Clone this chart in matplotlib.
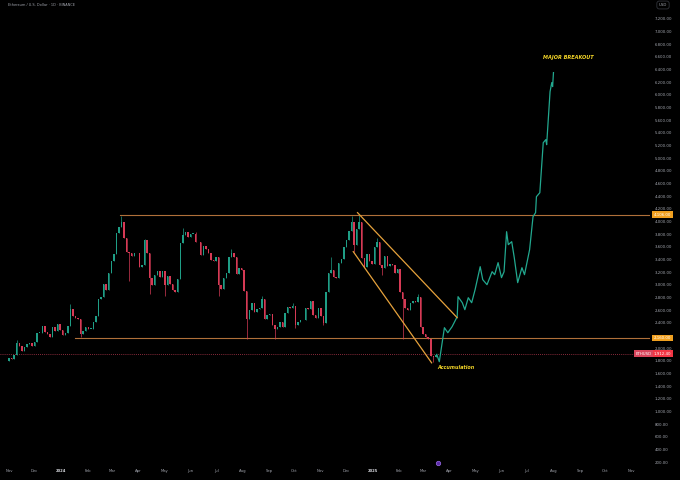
import numpy as np
import pandas as pd
import matplotlib
matplotlib.use("Agg")
import matplotlib.pyplot as plt
import matplotlib.dates as mdates
import matplotlib.transforms as mtransforms

# ----------------------------------------
# Data (3-day candles, ETH/USD)
# ----------------------------------------
first_date = "2023-11-01"
first_open = 1800

closes = [
    # Nov 2023
    1850, 1830, 1890, 2080, 2040, 1960, 2010, 2060, 2080, 2030,
    # Dec 2023
    2090, 2240, 2240, 2350, 2260, 2220, 2180, 2330, 2270, 2380, 2280,
    # Jan 2024
    2210, 2240, 2350, 2620, 2510, 2470, 2460, 2230, 2270, 2340,
    # Feb 2024
    2300, 2300, 2420, 2500, 2780, 2810, 3010, 2920, 3180, 3380,
    # Mar 2024
    3480, 3820, 3920, 3990, 3740, 3520, 3510, 3450, 3500, 3510,
    # Apr 2024
    3280, 3320, 3700, 3500, 3100, 2990, 3150, 3220, 3130, 3210,
    # May 2024
    2990, 3140, 3010, 2910, 2880, 3090, 3660, 3780, 3830, 3760,
    # Jun 2024
    3810, 3810, 3680, 3670, 3470, 3620, 3560, 3500, 3390, 3380,
    # Jul 2024
    3440, 3000, 2930, 3100, 3180, 3440, 3500, 3440, 3170, 3270, 3230,
    # Aug 2024
    2900, 2460, 2600, 2720, 2570, 2610, 2630, 2770, 2460, 2520,
    # Sep 2024
    2540, 2370, 2300, 2340, 2420, 2340, 2560, 2650, 2630, 2660,
    # Oct 2024
    2360, 2410, 2440, 2440, 2630, 2610, 2740, 2530, 2480, 2640,
    # Nov 2024
    2510, 2400, 2890, 3180, 3240, 3130, 3100, 3350, 3410, 3590,
    # Dec 2024
    3700, 3850, 3990, 3630, 3880, 3990, 3420, 3280, 3490, 3380, 3330,
    # Jan 2025
    3600, 3680, 3320, 3260, 3450, 3300, 3330, 3310, 3180, 3250,
    # Feb 2025
    2880, 2780, 2630, 2600, 2720, 2740, 2730, 2810, 2340,
    # Mar 2025
    2220, 2170, 2140, 1870, 1860, 1890,
]

# notable wicks: candle date -> extreme price
wick_highs = {"2023-11-10": 2130, "2024-01-12": 2700, "2024-03-12": 4090,
              "2024-04-08": 3730, "2024-05-23": 3900, "2024-06-07": 3840,
              "2024-07-19": 3560, "2024-08-24": 2820, "2024-09-29": 2720,
              "2024-11-13": 3440, "2024-12-07": 4080, "2024-12-16": 4110,
              "2025-01-06": 3740, "2025-02-23": 2850}
wick_lows = {"2024-01-24": 2170, "2024-03-21": 3060, "2024-04-14": 2850,
             "2024-05-02": 2820, "2024-07-04": 2830, "2024-08-06": 2150,
             "2024-09-08": 2150, "2024-10-02": 2320, "2024-11-04": 2360,
             "2024-12-10": 3520, "2025-01-12": 3160, "2025-02-05": 2150,
             "2025-03-13": 1780}

# projected path after the accumulation
proj_dates = ["2025-03-17", "2025-03-20", "2025-03-26", "2025-03-30", "2025-04-04",
              "2025-04-07", "2025-04-10", "2025-04-11", "2025-04-16", "2025-04-19",
              "2025-04-23", "2025-04-27", "2025-05-01", "2025-05-07", "2025-05-10",
              "2025-05-15", "2025-05-21", "2025-05-24", "2025-05-28", "2025-06-01",
              "2025-06-04", "2025-06-07", "2025-06-09", "2025-06-13", "2025-06-16",
              "2025-06-20", "2025-06-25", "2025-06-28", "2025-07-04", "2025-07-08",
              "2025-07-11", "2025-07-12", "2025-07-16", "2025-07-20", "2025-07-23",
              "2025-07-24", "2025-07-28", "2025-07-30", "2025-07-31", "2025-08-01"]
proj_prices = [1900, 1785, 2322, 2243, 2338,
               2417, 2496, 2812, 2717, 2607,
               2796, 2717, 2923, 3286, 3081,
               3002, 3207, 3160, 3350, 3113,
               3207, 3839, 3634, 3681, 3428,
               3034, 3270, 3160, 3555, 4076,
               4140, 4392, 4455, 5245, 5293,
               5214, 6051, 6194, 6131, 6352]

resistance = 4106.00
support = 2160.00
last_price = 1912.40

# ----------------------------------------
# Figure
# ----------------------------------------
BG = "#000000"
UP = "#1f9e86"
DOWN = "#d63a55"
TXT = "#a3a6af"

fig = plt.figure(figsize=(6.8, 4.8), dpi=100, facecolor=BG)
ax = fig.add_axes([0, 14 / 480, 650 / 680, 466 / 480], facecolor=BG)

ref = mdates.date2num(pd.Timestamp("2024-01-01"))
ax.set_xlim(ref - 71.6, ref + 691.3)
ax.set_ylim(137.4, 7499)

# candles
dates = pd.date_range(first_date, periods=len(closes), freq="3D")
x = mdates.date2num(dates)
c = np.array(closes, dtype=float)
o = np.concatenate([[first_open], c[:-1]])
hi = np.maximum(o, c)
lo = np.minimum(o, c)
for k, v in wick_highs.items():
    i = list(dates).index(pd.Timestamp(k))
    hi[i] = max(hi[i], v)
for k, v in wick_lows.items():
    i = list(dates).index(pd.Timestamp(k))
    lo[i] = min(lo[i], v)
cols = [UP if cc >= oo else DOWN for oo, cc in zip(o, c)]
body = np.maximum(np.abs(c - o), 10)
ax.vlines(x, lo, hi, colors=cols, linewidth=0.5, zorder=2)
ax.bar(x, body, bottom=np.minimum(o, c), width=1.7, color=cols, linewidth=0, zorder=3)

# projection
ax.plot(mdates.date2num(pd.to_datetime(proj_dates)), proj_prices,
        color="#22a88f", linewidth=0.9, zorder=3)

# horizontal levels
xr = ax.get_xlim()[1]
ax.plot([mdates.date2num(pd.Timestamp("2024-03-10")), xr], [resistance, resistance],
        color="#b0703a", linewidth=0.8, zorder=1)
ax.plot([mdates.date2num(pd.Timestamp("2024-01-17")), xr], [support, support],
        color="#b0703a", linewidth=0.8, zorder=1)
ax.axhline(last_price, xmin=0, xmax=635 / 650, color="#b8394f",
           linewidth=0.6, linestyle=(0, (1, 1.5)), zorder=1)

# descending channel
ch_up = pd.to_datetime(["2024-12-14", "2025-04-10"])
ch_lo = pd.to_datetime(["2024-12-09", "2025-03-11"])
ax.plot(mdates.date2num(ch_up), [4140, 2480], color="#e6a23c", linewidth=0.9, zorder=4)
ax.plot(mdates.date2num(ch_lo), [3524, 1767], color="#e6a23c", linewidth=0.9, zorder=4)

# annotations
ax.text(mdates.date2num(pd.Timestamp("2025-08-18")), 6583, "MAJOR BREAKOUT",
        color="#f2d428", fontsize=3.6, fontweight="bold", fontstyle="italic",
        ha="center", va="center")
ax.text(mdates.date2num(pd.Timestamp("2025-04-08")), 1686, "Accumulation",
        color="#f2d428", fontsize=3.5, fontweight="bold", fontstyle="italic",
        ha="center", va="center")

# event icon on time axis
ax.plot(mdates.date2num(pd.Timestamp("2025-03-18")), 190, "o", markersize=3.2,
        markerfacecolor="#5b2aa8", markeredgecolor="#9a6ee8", markeredgewidth=0.5,
        clip_on=False, zorder=5)

# price axis (2,200 sits under the support label)
ticks = [v for v in range(200, 7201, 200) if v != 2200]
ax.yaxis.tick_right()
ax.set_yticks(ticks)
ax.yaxis.set_major_formatter(plt.FuncFormatter(lambda v, p: f"{v:,.2f}"))
ax.tick_params(axis="y", length=0, pad=3.6, labelsize=2.8, labelcolor=TXT)

# time axis
months = pd.date_range("2023-11-01", "2025-11-01", freq="MS")
ax.set_xticks(mdates.date2num(months))
ax.set_xticklabels([str(m.year) if m.month == 1 else m.strftime("%b") for m in months])
ax.tick_params(axis="x", length=0, pad=2, labelsize=2.7, labelcolor=TXT)
for lab, m in zip(ax.get_xticklabels(), months):
    if m.month == 1:
        lab.set_color("#d8dae0")
        lab.set_fontweight("bold")

for s in ax.spines.values():
    s.set_visible(False)

# price labels on the right
blend = mtransforms.blended_transform_factory(ax.transAxes, ax.transData)
for val in [resistance, support]:
    ax.text(662.5 / 650, val, f"{val:,.2f}", transform=blend, ha="center", va="center",
            fontsize=2.8, color="white", zorder=6, clip_on=False,
            bbox=dict(boxstyle="square,pad=0.35", fc="#f0a020", ec="none"))
ax.text(662.5 / 650, last_price, f"{last_price:,.2f}", transform=blend, ha="center",
        va="center", fontsize=2.8, color="white", zorder=6, clip_on=False,
        bbox=dict(boxstyle="square,pad=0.35", fc="#f23645", ec="none"))
ax.text(643.5 / 650, last_price, "ETHUSD", transform=blend, ha="center",
        va="center", fontsize=2.8, color="white", zorder=6, clip_on=False,
        bbox=dict(boxstyle="square,pad=0.35", fc="#d9455c", ec="none"))

# header texts
fig.text(8 / 680, 1 - 5 / 480, "Ethereum / U.S. Dollar \u00b7 1D \u00b7 BINANCE",
         color=TXT, fontsize=2.5, ha="left", va="center")
fig.text(663 / 680, 1 - 5 / 480, "USD", color=TXT, fontsize=2.8, ha="center", va="center",
         bbox=dict(boxstyle="round,pad=0.5,rounding_size=0.6", fc=BG, ec="#3a3d45", lw=0.5))

fig.savefig("out.png", dpi=100, facecolor=BG)
